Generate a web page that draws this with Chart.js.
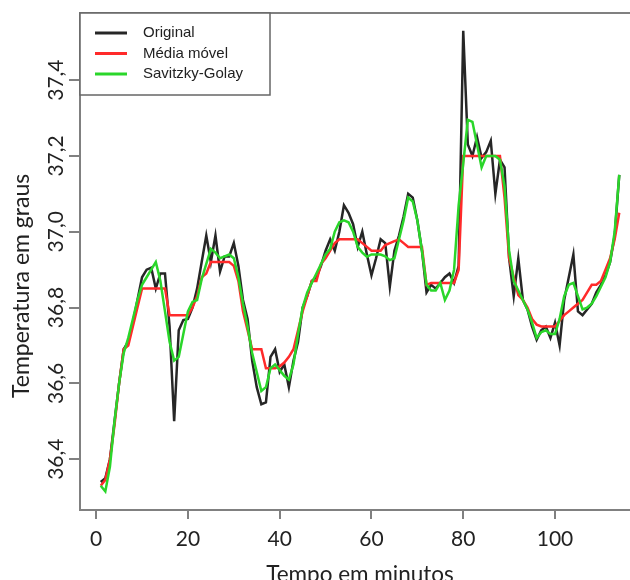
<!DOCTYPE html>
<html lang="pt">
<head>
<meta charset="UTF-8">
<title>Temperatura</title>
<script src="https://cdn.jsdelivr.net/npm/chart.js@4.4.1/dist/chart.umd.min.js"></script>
<style>
  html, body { margin: 0; overflow: hidden; background: #fff; }
  #wrap { width: 630px; height: 580px; overflow: hidden; }
</style>
</head>
<body>
<div id="wrap"><canvas id="grafico" width="645" height="580"></canvas></div>
<script>
// minutos 1..114 (o eixo x é só o índice da leitura)
const minutos = Array.from({length: 114}, (_, i) => i + 1);

const original = [36.34,36.35,36.40,36.50,36.60,36.69,36.71,36.76,36.82,36.88,
  36.90,36.905,36.85,36.89,36.89,36.75,36.50,36.74,36.767,36.77,
  36.80,36.85,36.92,36.99,36.92,36.99,36.895,36.935,36.935,36.97,
  36.91,36.82,36.77,36.66,36.59,36.545,36.55,36.67,36.69,36.63,
  36.65,36.59,36.66,36.71,36.80,36.83,36.87,36.88,36.91,36.95,
  36.98,36.95,37.00,37.07,37.05,37.02,36.96,37.00,36.94,36.885,
  36.93,36.98,36.97,36.855,36.95,36.99,37.04,37.10,37.09,37.03,
  36.95,36.84,36.86,36.85,36.865,36.88,36.89,36.865,36.91,37.53,
  37.23,37.20,37.25,37.195,37.21,37.24,37.10,37.19,37.17,36.93,
  36.83,36.93,36.82,36.795,36.75,36.715,36.74,36.75,36.72,36.76,
  36.70,36.82,36.88,36.94,36.79,36.78,36.795,36.81,36.84,36.86,
  36.885,36.92,36.99,37.15];

const mediaMovel = [36.33,36.345,36.40,36.49,36.60,36.69,36.70,36.75,36.80,36.85,
  36.85,36.85,36.85,36.85,36.85,36.78,36.78,36.78,36.78,36.78,
  36.80,36.83,36.88,36.89,36.92,36.92,36.92,36.92,36.92,36.91,
  36.87,36.79,36.74,36.69,36.69,36.69,36.64,36.64,36.64,36.645,
  36.655,36.67,36.69,36.74,36.79,36.83,36.87,36.87,36.915,36.93,
  36.95,36.97,36.98,36.98,36.98,36.98,36.98,36.97,36.96,36.95,
  36.95,36.95,36.965,36.97,36.975,36.98,36.97,36.96,36.96,36.96,
  36.96,36.86,36.865,36.865,36.865,36.865,36.865,36.865,36.90,37.20,
  37.20,37.20,37.20,37.20,37.20,37.20,37.20,37.20,37.09,36.93,
  36.88,36.833,36.82,36.80,36.77,36.755,36.75,36.75,36.75,36.75,
  36.765,36.78,36.79,36.80,36.81,36.82,36.84,36.86,36.86,36.87,
  36.90,36.93,36.98,37.05];

const savitzky = [36.33,36.315,36.38,36.50,36.60,36.68,36.72,36.77,36.82,36.86,
  36.88,36.90,36.92,36.87,36.79,36.71,36.66,36.67,36.73,36.79,
  36.815,36.82,36.875,36.915,36.955,36.945,36.93,36.935,36.94,36.93,
  36.88,36.81,36.75,36.68,36.63,36.58,36.59,36.64,36.65,36.635,
  36.62,36.61,36.65,36.73,36.80,36.84,36.865,36.89,36.915,36.94,
  36.955,37.00,37.025,37.03,37.025,37.00,36.96,36.945,36.934,36.94,
  36.94,36.94,36.935,36.925,36.93,36.98,37.03,37.09,37.08,37.03,
  36.95,36.86,36.845,36.845,36.865,36.82,36.845,36.90,37.07,37.18,
  37.295,37.29,37.23,37.17,37.20,37.20,37.20,37.19,37.12,36.95,
  36.87,36.845,36.82,36.795,36.76,36.72,36.735,36.74,36.73,36.73,
  36.77,36.83,36.86,36.865,36.83,36.795,36.80,36.81,36.83,36.855,
  36.88,36.92,37.00,37.15];

const xTicks = [0, 20, 40, 60, 80, 100];
const yTicks = [36.4, 36.6, 36.8, 37.0, 37.2, 37.4];
const nomes = ['Original', 'Média móvel', 'Savitzky-Golay'];
const cores = ['#262626', '#ff2a2a', '#2ad62a'];

const cinza = '#808080';
const fonte = 'Lato';

function pontos(serie) {
  return serie.map((v, i) => ({x: minutos[i], y: v}));
}

function rotulo(v) {
  return v.toFixed(1).replace('.', ',');
}

// moldura, rótulos do eixo y girados, título do eixo y e a legenda
const extras = {
  id: 'extras',
  beforeDatasetsDraw(chart) {
    const {ctx, chartArea: a, width} = chart;
    ctx.save();
    ctx.strokeStyle = cinza;
    ctx.lineWidth = 2;
    ctx.beginPath();
    ctx.moveTo(width, a.top);
    ctx.lineTo(a.left, a.top);
    ctx.lineTo(a.left, a.bottom);
    ctx.lineTo(width, a.bottom);
    ctx.stroke();
    ctx.restore();
  },
  afterDatasetsDraw(chart) {
    const {ctx, chartArea: a} = chart;
    const y = chart.scales.y;

    ctx.save();
    ctx.font = '21px ' + fonte;
    ctx.fillStyle = '#222';
    ctx.textAlign = 'center';
    ctx.textBaseline = 'alphabetic';
    y.ticks.forEach(t => {
      const py = y.getPixelForValue(t.value);
      ctx.save();
      ctx.translate(a.left - 17, py);
      ctx.rotate(-Math.PI / 2);
      ctx.fillText(rotulo(t.value), 0, 0);
      ctx.restore();
    });

    // título do eixo y (no original fica um pouco abaixo do centro)
    ctx.save();
    ctx.font = '23px ' + fonte;
    ctx.textAlign = 'left';
    ctx.textBaseline = 'middle';
    ctx.translate(22, a.bottom - 112);
    ctx.rotate(-Math.PI / 2);
    ctx.fillText('Temperatura em graus', 0, 0);
    ctx.restore();

    // legenda
    const lx = a.left, ly = a.top;
    ctx.fillStyle = '#fff';
    ctx.fillRect(lx, ly, 190, 82);
    ctx.strokeStyle = '#666';
    ctx.lineWidth = 1.5;
    ctx.strokeRect(lx, ly, 190, 82);
    ctx.font = '15px "Liberation Sans", Arial, sans-serif';
    ctx.textAlign = 'left';
    ctx.textBaseline = 'middle';
    nomes.forEach((n, i) => {
      const yy = ly + 20 + i * 20.5;
      ctx.strokeStyle = cores[i];
      ctx.lineWidth = 3;
      ctx.beginPath();
      ctx.moveTo(lx + 15, yy);
      ctx.lineTo(lx + 47, yy);
      ctx.stroke();
      ctx.fillStyle = '#222';
      ctx.fillText(n, lx + 63, yy);
    });
    ctx.restore();
  }
};

const series = [original, mediaMovel, savitzky];

new Chart(document.getElementById('grafico'), {
  type: 'line',
  data: {
    datasets: series.map((s, i) => ({
      label: nomes[i],
      data: pontos(s),
      borderColor: cores[i],
      borderWidth: 2.5,
      pointRadius: 0,
      tension: 0,
      fill: false,
      order: 3 - i
    }))
  },
  options: {
    responsive: false,
    animation: false,
    layout: { padding: { top: 13, right: 5, left: 0, bottom: 0 } },
    plugins: { legend: { display: false }, tooltip: { enabled: false } },
    scales: {
      x: {
        type: 'linear',
        min: -3.52,
        max: 118.52,
        afterBuildTicks: s => { s.ticks = xTicks.map(v => ({value: v})); },
        afterFit: s => { s.height = 70; },
        grid: { drawOnChartArea: false, drawTicks: true, tickLength: 9, color: cinza, lineWidth: 2 },
        border: { display: false },
        ticks: { font: { family: fonte, size: 21 }, color: '#222', padding: 8, maxRotation: 0, autoSkip: false },
        title: { display: true, text: 'Tempo em minutos', color: '#222',
                 font: { family: fonte, size: 22.5, lineHeight: 0.5 }, padding: { top: 0, bottom: 0 } }
      },
      y: {
        min: 36.266,
        max: 37.577,
        afterBuildTicks: s => { s.ticks = yTicks.map(v => ({value: v})); },
        afterFit: s => { s.width = 80; },
        grid: { drawOnChartArea: false, drawTicks: true, tickLength: 11, color: cinza, lineWidth: 2 },
        border: { display: false },
        ticks: { display: false },
        title: { display: false }
      }
    }
  },
  plugins: [extras]
});
</script>
</body>
</html>
